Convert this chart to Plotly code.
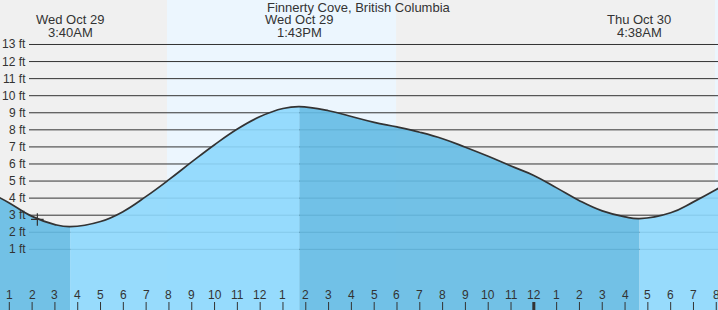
import plotly.graph_objects as go

# ---- data (hours since midnight Wed Oct 29) ----
hours = [0.5, 1, 2, 3, 3.667, 5, 6, 7, 8, 9, 10, 11, 12, 13, 13.717, 15, 16, 17,
         18, 19, 20, 21, 22, 23, 24, 25, 26, 27, 28, 28.633, 30, 31, 32, 32.2]
heights = [4.08, 3.72, 2.93, 2.45, 2.33, 2.63, 3.22, 4.10, 5.08, 6.12, 7.13, 8.05, 8.78,
           9.25, 9.36, 9.12, 8.78, 8.44, 8.17, 7.86, 7.48, 6.98, 6.45, 5.88, 5.33, 4.60,
           3.85, 3.25, 2.90, 2.80, 3.14, 3.78, 4.50, 4.66]

extreme_hours = [3.667, 13.717, 28.633]
extreme_dates = ["Wed Oct 29", "Wed Oct 29", "Thu Oct 30"]
extreme_times = ["3:40AM", "1:43PM", "4:38AM"]

day_spans = [(7.915, 17.96), (31.94, 33.0)]
now_hour, now_height = 2.23, 2.75

tick_hours = list(range(1, 33))
tick_labels = [str((h - 1) % 12 + 1) for h in tick_hours]
ft_levels = list(range(1, 14))
ft_labels = [f"{v} ft" for v in ft_levels]

title = "Finnerty Cove, British Columbia"

W, H = 718, 310
X_RANGE = [0.592, 32.076]
Y_RANGE = [-2.554, 15.606]
FONT = "Liberation Sans, Arial, sans-serif"
TXT = "#333333"
LIGHT = "rgba(141,216,253,0.9)"
DARK = "rgba(100,187,228,0.9)"
SMOOTH = 1.2

fig = go.Figure()

# segments between extremes
bounds = [hours[0]] + extreme_hours + [hours[-1]]
for i in range(len(bounds) - 1):
    a, b = bounds[i], bounds[i + 1]
    xs = [h for h in hours if a <= h <= b]
    ys = [heights[hours.index(h)] for h in xs]
    falling = ys[0] > ys[-1]
    fig.add_trace(go.Scatter(x=xs, y=[Y_RANGE[0] - 1] * len(xs), mode="lines",
                             line=dict(width=0), hoverinfo="skip", showlegend=False))
    fig.add_trace(go.Scatter(x=xs, y=ys, mode="lines", line=dict(width=0, shape="spline", smoothing=SMOOTH),
                             fill="tonexty", fillcolor=DARK if falling else LIGHT,
                             hoverinfo="skip", showlegend=False))

fig.add_trace(go.Scatter(x=hours, y=heights, mode="lines",
                         line=dict(color="#333333", width=1.7, shape="spline", smoothing=SMOOTH),
                         hoverinfo="skip", showlegend=False))
fig.add_trace(go.Scatter(x=[now_hour], y=[now_height], mode="markers",
                         marker=dict(symbol="cross-thin", size=9, line=dict(color="#333333", width=1.2)),
                         hoverinfo="skip", showlegend=False))

shapes = []
for a, b in day_spans:
    shapes.append(dict(type="rect", xref="x", yref="paper", x0=a, x1=b, y0=0, y1=1,
                       fillcolor="#ECF6FE", line=dict(width=0), layer="below"))
for v in ft_levels:
    shapes.append(dict(type="line", xref="paper", yref="y", x0=29 / W, x1=1, y0=v, y1=v,
                       line=dict(color="#333333", width=1), layer="below"))
for h in tick_hours:
    shapes.append(dict(type="line", xref="x", yref="paper", x0=h, x1=h, y0=0, y1=8 / H,
                       line=dict(color="#333333", width=3 if h == 24 else 1)))

ann = []
ann.append(dict(text=title, xref="paper", yref="paper", x=359 / W, y=1 - 7.3 / H,
                showarrow=False, xanchor="center", yanchor="middle", font=dict(size=13, color=TXT)))
for h, d, t in zip(extreme_hours, extreme_dates, extreme_times):
    ann.append(dict(text=d, xref="x", yref="paper", x=h, y=1 - 19.3 / H, showarrow=False,
                    xanchor="center", yanchor="middle", font=dict(size=13, color=TXT)))
    ann.append(dict(text=t, xref="x", yref="paper", x=h, y=1 - 32 / H, showarrow=False,
                    xanchor="center", yanchor="middle", font=dict(size=13, color=TXT)))
for v, lab in zip(ft_levels, ft_labels):
    ann.append(dict(text=lab, xref="paper", yref="y", x=27.5 / W, y=v, showarrow=False,
                    xanchor="right", yanchor="middle", font=dict(size=12, color=TXT)))
for h, lab in zip(tick_hours, tick_labels):
    ann.append(dict(text=lab, xref="x", yref="paper", x=h, y=1 - 295 / H, showarrow=False,
                    xanchor="center", yanchor="middle", font=dict(size=12, color=TXT)))

fig.update_layout(
    width=W, height=H, margin=dict(l=0, r=0, t=0, b=0),
    paper_bgcolor="#F0F0F0", plot_bgcolor="#F0F0F0",
    font=dict(family=FONT, color=TXT),
    xaxis=dict(range=X_RANGE, visible=False, fixedrange=True),
    yaxis=dict(range=Y_RANGE, visible=False, fixedrange=True),
    shapes=shapes, annotations=ann, showlegend=False,
)

fig.write_html("out.html", config={"displayModeBar": False})
